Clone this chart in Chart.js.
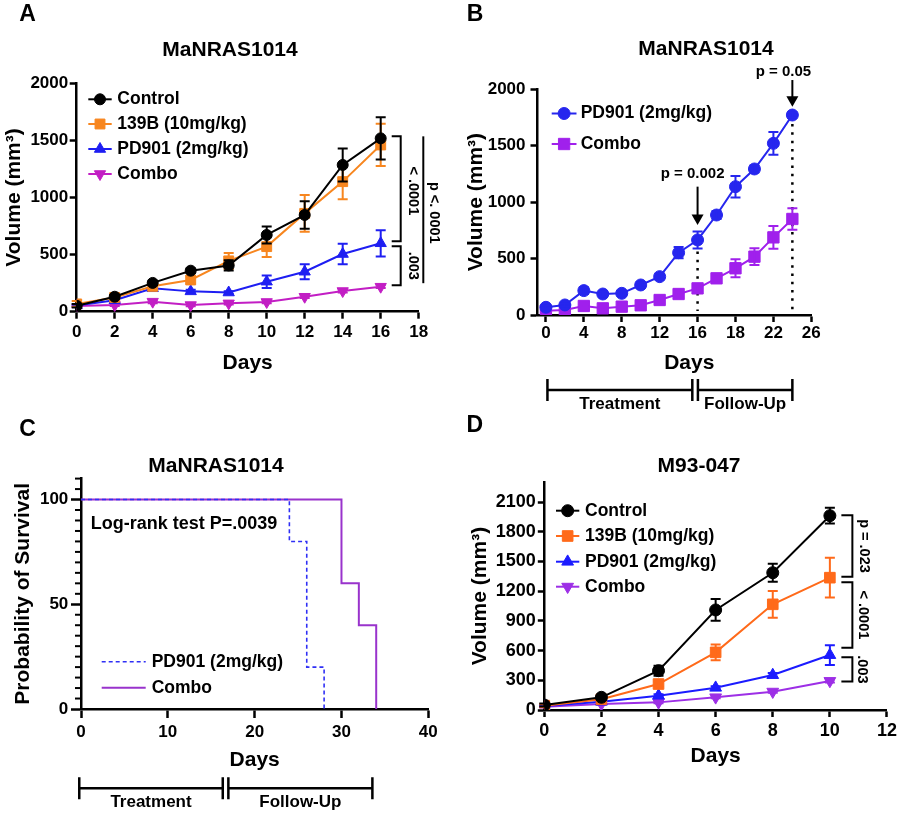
<!DOCTYPE html>
<html>
<head>
<meta charset="utf-8">
<title>MaNRAS1014 / M93-047 tumor volume and survival</title>
<script src="https://cdn.jsdelivr.net/npm/chart.js@4.4.1/dist/chart.umd.min.js"></script>
<style>
  html, body { margin: 0; padding: 0; background: #ffffff; }
  #fig { position: relative; width: 900px; height: 816px; overflow: hidden; background: #ffffff; }
  #fig canvas { position: absolute; }
</style>
</head>
<body>
<div id="fig">
  <canvas id="chartA" width="450" height="420" style="left:0px;top:0px;width:450px;height:420px"></canvas>
  <canvas id="chartB" width="450" height="420" style="left:450px;top:0px;width:450px;height:420px"></canvas>
  <canvas id="chartC" width="450" height="406" style="left:0px;top:410px;width:450px;height:406px"></canvas>
  <canvas id="chartD" width="450" height="406" style="left:450px;top:410px;width:450px;height:406px"></canvas>
</div>
<script>
// ---------------- Panel A data (MaNRAS1014) ----------------
const daysA      = [0, 2, 4, 6, 8, 10, 12, 14, 16];
const xTicksA    = [0, 2, 4, 6, 8, 10, 12, 14, 16, 18];
const yTicksA    = [0, 500, 1000, 1500, 2000];
const controlA   = [52, 131, 252, 359, 405, 672, 847, 1285, 1518];
const controlErrA= [15, 15, 20, 20, 45, 75, 120, 145, 185];
const b139A      = [68, 125, 222, 278, 445, 570, 861, 1139, 1460];
const b139ErrA   = [25, 15, 20, 30, 70, 90, 160, 155, 185];
const pd901A     = [55, 100, 205, 178, 168, 263, 350, 505, 599];
const pd901ErrA  = [10, 12, 15, 15, 12, 55, 65, 90, 115];
const comboA     = [50, 58, 88, 58, 73, 85, 131, 181, 219];
const comboErrA  = [8, 8, 15, 10, 10, 10, 12, 12, 12];

// ---------------- Panel B data (MaNRAS1014, follow-up) ----------------
const tickLabelsB = ['0', '4', '8', '12', '16', '18', '22', '26'];
const yTicksB     = [0, 500, 1000, 1500, 2000];
const pd901B      = [68, 89, 216, 186, 192, 266, 340, 552, 665, 886, 1137, 1294, 1521, 1772];
const pd901ErrB   = [15, 15, 30, 20, 20, 25, 25, 50, 75, 35, 95, 30, 100, 25];
const comboB      = [38, 44, 80, 59, 74, 86, 133, 186, 236, 325, 414, 517, 688, 851];
const comboErrB   = [10, 10, 15, 10, 10, 15, 15, 20, 25, 35, 80, 75, 100, 95];
const pIndexB     = [8, 13];
const pLabelsB    = ['p = 0.002', 'p = 0.05'];

// ---------------- Panel C data (survival) ----------------
const xTicksC      = [0, 10, 20, 30, 40];
const yTicksC      = [0, 50, 100];
const kmDaysPD     = [0, 24, 26, 28];
const kmSurvPD     = [100, 80, 20, 0];
const kmDaysCombo  = [0, 30, 32, 34];
const kmSurvCombo  = [100, 60, 40, 0];

// ---------------- Panel D data (M93-047) ----------------
const daysD       = [0, 2, 4, 6, 8, 10];
const xTicksD     = [0, 2, 4, 6, 8, 10, 12];
const yTicksD     = [0, 300, 600, 900, 1200, 1500, 1800, 2100];
const controlD    = [50, 128, 397, 1010, 1386, 1962];
const controlErrD = [15, 20, 50, 110, 90, 80];
const b139D       = [44, 108, 262, 582, 1067, 1336];
const b139ErrD    = [15, 15, 25, 80, 135, 200];
const pd901D      = [40, 84, 145, 225, 353, 555];
const pd901ErrD   = [10, 10, 15, 15, 20, 100];
const comboD      = [34, 61, 77, 128, 185, 293];
const comboErrD   = [8, 8, 10, 10, 10, 15];

// ---------------- styling ----------------
const FONT = '"Liberation Sans", Arial, Helvetica, sans-serif';
Chart.defaults.font.family = FONT;
Chart.defaults.font.weight = 'bold';
Chart.defaults.color = '#000';

const COL = {
  black: '#000000',
  orangeA: '#f7861f', blueA: '#1e1ef2', magentaA: '#c21ec4',
  blueB: '#2626ee', purpleB: '#a020ec',
  blueC: '#2f2ff5', purpleC: '#9933cc',
  orangeD: '#ff6a1a', blueD: '#1b1bff', purpleD: '#9d2fe6'
};

function text(ctx, s, x, y, size, align, rot) {
  ctx.save();
  ctx.translate(x, y);
  if (rot) ctx.rotate(rot);
  ctx.font = 'bold ' + size + 'px ' + FONT;
  ctx.fillStyle = '#000';
  ctx.textAlign = align || 'center';
  ctx.textBaseline = 'middle';
  ctx.fillText(s, 0, 0);
  ctx.restore();
}

function series(label, xs, ys, errs, color, style, radius, rotation) {
  return {
    label: label,
    errorBars: errs,
    data: xs.map((x, i) => ({ x: x, y: ys[i] })),
    borderColor: color, backgroundColor: color,
    pointBackgroundColor: color, pointBorderColor: color,
    pointStyle: style, pointRadius: radius, pointRotation: rotation || 0,
    pointBorderWidth: 1, borderWidth: 2, tension: 0, fill: false
  };
}

function axisX(o) {
  return {
    type: 'linear', position: 'bottom', min: o.min, max: o.max,
    afterFit: s => { s.height = o.height; },
    afterBuildTicks: s => { s.ticks = o.ticks.map(v => ({ value: v })); },
    border: { display: true, color: '#000', width: 2.5 },
    grid: { display: true, drawOnChartArea: false, drawTicks: true, tickLength: o.tickLength, tickWidth: 2.5, tickColor: '#000' },
    ticks: { color: '#000', padding: o.pad, maxRotation: 0, autoSkip: false,
             font: { size: o.size, weight: 'bold' }, callback: o.cb || (v => String(v)) },
    title: o.title ? { display: true, text: o.title, color: '#000', font: { size: 21, weight: 'bold' },
                       padding: { top: 0, bottom: o.titlePad } } : { display: false }
  };
}

function axisY(o) {
  return {
    type: 'linear', position: 'left', min: o.min, max: o.max,
    afterFit: s => { s.width = o.width; },
    afterBuildTicks: s => { s.ticks = o.ticks.map(v => ({ value: v })); },
    border: { display: true, color: '#000', width: 2.5 },
    grid: { display: true, drawOnChartArea: false, drawTicks: true, tickLength: o.tickLength, tickWidth: 2.5, tickColor: '#000' },
    ticks: { color: '#000', padding: o.pad, autoSkip: false,
             font: { size: o.size, weight: 'bold' }, callback: v => String(v) },
    title: { display: true, text: o.title, color: '#000', font: { size: 21, weight: 'bold' },
             padding: { top: o.titlePad, bottom: 0 } }
  };
}

function common(pad) {
  return {
    responsive: false, animation: false, devicePixelRatio: 1, events: [],
    layout: { padding: pad },
    plugins: { legend: { display: false }, tooltip: { enabled: false }, title: { display: false } }
  };
}

// error bars drawn through the chart's own y scale
const errorBars = {
  id: 'errorBars',
  afterDatasetDraw(chart, args) {
    const ds = chart.data.datasets[args.index];
    if (!ds.errorBars) return;
    const ys = chart.scales.y, ctx = chart.ctx;
    ctx.save();
    ctx.strokeStyle = ds.borderColor;
    ctx.lineWidth = 2;
    args.meta.data.forEach((pt, i) => {
      const e = ds.errorBars[i];
      if (!e) return;
      const v = ds.data[i].y;
      const top = ys.getPixelForValue(v + e), bot = ys.getPixelForValue(v - e);
      ctx.beginPath();
      ctx.moveTo(pt.x, top); ctx.lineTo(pt.x, bot);
      ctx.moveTo(pt.x - 5, top); ctx.lineTo(pt.x + 5, top);
      ctx.moveTo(pt.x - 5, bot); ctx.lineTo(pt.x + 5, bot);
      ctx.stroke();
    });
    ctx.restore();
  }
};

function marker(ctx, style, r, rot, x, y, color) {
  ctx.save();
  ctx.fillStyle = color; ctx.strokeStyle = color; ctx.lineWidth = 1;
  ctx.beginPath();
  if (style === 'circle') {
    ctx.arc(x, y, r, 0, Math.PI * 2);
  } else if (style === 'rect') {
    const s = Math.SQRT1_2 * r;
    ctx.rect(x - s, y - s, 2 * s, 2 * s);
  } else if (style === 'triangle') {
    let a = (rot || 0) * Math.PI / 180;
    for (let k = 0; k < 3; k++) {
      const px = x + Math.sin(a) * r, py = y - Math.cos(a) * r;
      if (k) ctx.lineTo(px, py); else ctx.moveTo(px, py);
      a += 2 * Math.PI / 3;
    }
    ctx.closePath();
  }
  ctx.fill(); ctx.stroke();
  ctx.restore();
}

function legend(ctx, datasets, x0, x1, xt, rows, size) {
  datasets.forEach((ds, i) => {
    const y = rows[i];
    ctx.save();
    ctx.strokeStyle = ds.borderColor;
    ctx.lineWidth = ds.borderWidth || 2;
    ctx.setLineDash(ds.borderDash || []);
    ctx.beginPath(); ctx.moveTo(x0, y); ctx.lineTo(x1, y); ctx.stroke();
    ctx.restore();
    if (ds.pointRadius > 0) marker(ctx, ds.pointStyle, ds.pointRadius, ds.pointRotation, (x0 + x1) / 2, y, ds.borderColor);
    text(ctx, ds.label, xt, y, size, 'left');
  });
}

function bracket(ctx, xArm, x, y1, y2) {
  ctx.beginPath();
  ctx.moveTo(xArm, y1); ctx.lineTo(x, y1); ctx.lineTo(x, y2); ctx.lineTo(xArm, y2);
  ctx.stroke();
}

function phaseBars(ctx, xs, bounds, labels, y, ty) {
  const gap = 2.8;
  const segs = [[xs.getPixelForValue(bounds[0]), xs.getPixelForValue(bounds[1]) - gap],
                [xs.getPixelForValue(bounds[1]) + gap, xs.getPixelForValue(bounds[2])]];
  ctx.save();
  ctx.strokeStyle = '#000'; ctx.lineWidth = 2.5;
  segs.forEach(([a, b]) => {
    ctx.beginPath();
    ctx.moveTo(a, y); ctx.lineTo(b, y);
    ctx.moveTo(a, y - 11); ctx.lineTo(a, y + 11);
    ctx.moveTo(b, y - 11); ctx.lineTo(b, y + 11);
    ctx.stroke();
  });
  ctx.restore();
  segs.forEach(([a, b], i) => text(ctx, labels[i], (a + b) / 2, ty, 17));
}

const last = a => a[a.length - 1];

// ---------------- Panel A ----------------
function decorA(chart) {
  const ctx = chart.ctx, xs = chart.scales.x, ys = chart.scales.y;
  text(ctx, 'A', 27.5, 14.5, 23);
  text(ctx, 'MaNRAS1014', 230, 50, 21);
  legend(ctx, chart.data.datasets, 88.3, 111.7, 117.3, [99.3, 124, 149, 174], 17.5);
  const xl = xs.getPixelForValue(last(daysA));
  const yC = ys.getPixelForValue(last(controlA)) - 2;
  const yP = ys.getPixelForValue(last(pd901A)) - 2;
  const yP2 = ys.getPixelForValue(last(pd901A)) + 3;
  const yK = ys.getPixelForValue(last(comboA)) - 1.5;
  ctx.save();
  ctx.strokeStyle = '#000'; ctx.lineWidth = 2;
  bracket(ctx, xl + 11, xl + 20, yC, yP);
  bracket(ctx, xl + 11, xl + 20, yP2, yK);
  ctx.beginPath(); ctx.moveTo(xl + 42.6, yC); ctx.lineTo(xl + 42.6, yK - 2); ctx.stroke();
  ctx.restore();
  text(ctx, '< .0001', xl + 32, (yC + yP) / 2 + 2, 14.5, 'center', Math.PI / 2);
  text(ctx, '.003', xl + 32, (yP2 + yK) / 2, 14.5, 'center', Math.PI / 2);
  text(ctx, 'p <. 0001', xl + 53, (yC + yK) / 2 + 2, 14.5, 'center', Math.PI / 2);
}

new Chart(document.getElementById('chartA'), {
  type: 'line',
  data: { datasets: [
    series('Control', daysA, controlA, controlErrA, COL.black, 'circle', 5.5, 0),
    series('139B (10mg/kg)', daysA, b139A, b139ErrA, COL.orangeA, 'rect', 7, 0),
    series('PD901 (2mg/kg)', daysA, pd901A, pd901ErrA, COL.blueA, 'triangle', 6.5, 0),
    series('Combo', daysA, comboA, comboErrA, COL.magentaA, 'triangle', 6.5, 180)
  ] },
  options: Object.assign(common({ left: 0, top: 83.3, right: 31.3, bottom: 0 }), {
    scales: {
      x: axisX({ min: 0, max: 18, ticks: xTicksA, height: 108.3, tickLength: 7, pad: 3, size: 17, title: 'Days', titlePad: 44.4 }),
      y: axisY({ min: 0, max: 2000, ticks: yTicksA, width: 76.7, tickLength: 7, pad: 1.5, size: 17, title: 'Volume (mm³)', titlePad: 2 })
    }
  }),
  plugins: [errorBars, { id: 'decorA', afterDraw: decorA }]
});

// ---------------- Panel B ----------------
const posB = pd901B.map((_, i) => i);
function dottedB(chart) {
  const ctx = chart.ctx, xs = chart.scales.x, ys = chart.scales.y;
  ctx.save();
  ctx.strokeStyle = '#000'; ctx.lineWidth = 2.5; ctx.setLineDash([2.5, 5.8]);
  pIndexB.forEach(i => {
    const x = xs.getPixelForValue(i);
    const y0 = Math.max(ys.getPixelForValue(pd901B[i]) + 9, ys.getPixelForValue(pd901B[i] - pd901ErrB[i]) + 3);
    ctx.beginPath(); ctx.moveTo(x, y0); ctx.lineTo(x, chart.chartArea.bottom - 4); ctx.stroke();
  });
  ctx.restore();
}
function arrow(ctx, x, yTop, yTip) {
  ctx.save();
  ctx.strokeStyle = '#000'; ctx.fillStyle = '#000'; ctx.lineWidth = 2;
  ctx.beginPath(); ctx.moveTo(x, yTop); ctx.lineTo(x, yTip - 8); ctx.stroke();
  ctx.beginPath(); ctx.moveTo(x - 6, yTip - 10.5); ctx.lineTo(x + 6, yTip - 10.5); ctx.lineTo(x, yTip); ctx.closePath(); ctx.fill();
  ctx.restore();
}
function decorB(chart) {
  const ctx = chart.ctx, xs = chart.scales.x, ys = chart.scales.y;
  text(ctx, 'B', 25, 14.5, 23);
  text(ctx, 'MaNRAS1014', 256, 49.3, 21);
  legend(ctx, chart.data.datasets, 101.7, 126.5, 130.7, [113.5, 144], 17.5);
  text(ctx, 'Days', 239.3, 363, 21);
  const tipGap = [15, 8.3], len = [38.3, 26.7], tGap = [12.7, 8.3], tDx = [-5, -9];
  pIndexB.forEach((idx, k) => {
    const x = xs.getPixelForValue(idx);
    const tip = ys.getPixelForValue(pd901B[idx]) - tipGap[k];
    arrow(ctx, x, tip - len[k], tip);
    text(ctx, pLabelsB[k], x + tDx[k], tip - len[k] - tGap[k], 15);
  });
  phaseBars(ctx, xs, [0.08, 7.87, 13], ['Treatment', 'Follow-Up'], 390, 404);
}

new Chart(document.getElementById('chartB'), {
  type: 'line',
  data: { datasets: [
    series('PD901 (2mg/kg)', posB, pd901B, pd901ErrB, COL.blueB, 'circle', 6, 0),
    series('Combo', posB, comboB, comboErrB, COL.purpleB, 'rect', 8, 0)
  ] },
  options: Object.assign(common({ left: 0, top: 89.3, right: 88.3, bottom: 0 }), {
    scales: {
      x: axisX({ min: -0.444, max: 14.02, ticks: [0, 2, 4, 6, 8, 10, 12, 14], height: 105, tickLength: 7, pad: 1, size: 17,
                 cb: v => tickLabelsB[Math.round(v / 2)] }),
      y: axisY({ min: 0, max: 2000, ticks: yTicksB, width: 87.5, tickLength: 7, pad: 5, size: 17, title: 'Volume (mm³)', titlePad: 13.7 })
    }
  }),
  plugins: [errorBars, { id: 'decorB', beforeDatasetsDraw: dottedB, afterDraw: decorB }]
});

// ---------------- Panel C ----------------
function decorC(chart) {
  const ctx = chart.ctx, xs = chart.scales.x, ys = chart.scales.y;
  text(ctx, 'C', 27.5, 19.2, 23);
  text(ctx, 'MaNRAS1014', 216, 56, 21);
  text(ctx, 'Log-rank test P=.0039', 90.7, 114, 18, 'left');
  legend(ctx, chart.data.datasets, 101.7, 145.7, 151.7, [251.7, 277.7], 17.5);
  // minor ticks on survival axis
  ctx.save();
  ctx.strokeStyle = '#000'; ctx.lineWidth = 2;
  const left = chart.chartArea.left;
  for (let v = 5; v <= 110; v += 5) {
    if (yTicksC.indexOf(v) >= 0) continue;
    const y = ys.getPixelForValue(v);
    ctx.beginPath(); ctx.moveTo(left - 6, y); ctx.lineTo(left, y); ctx.stroke();
  }
  ctx.restore();
  phaseBars(ctx, xs, [-0.2, 16.65, 33.56], ['Treatment', 'Follow-Up'], 378.3, 392.7);
}

new Chart(document.getElementById('chartC'), {
  type: 'line',
  data: { datasets: [
    { label: 'PD901 (2mg/kg)', data: kmDaysPD.map((d, i) => ({ x: d, y: kmSurvPD[i] })),
      stepped: true, borderColor: COL.blueC, backgroundColor: COL.blueC, borderWidth: 1.6, borderDash: [4, 3],
      pointRadius: 0, fill: false },
    { label: 'Combo', data: kmDaysCombo.map((d, i) => ({ x: d, y: kmSurvCombo[i] })),
      stepped: true, borderColor: COL.purpleC, backgroundColor: COL.purpleC, borderWidth: 2,
      pointRadius: 0, fill: false }
  ] },
  options: Object.assign(common({ left: 0, top: 68.6, right: 21.7, bottom: 0 }), {
    scales: {
      x: axisX({ min: 0, max: 40, ticks: xTicksC, height: 107, tickLength: 9, pad: 4.5, size: 17, title: 'Days', titlePad: 42.7 }),
      y: axisY({ min: 0, max: 110, ticks: yTicksC, width: 81, tickLength: 10, pad: 2.7, size: 17, title: 'Probability of Survival', titlePad: 10.7 })
    }
  }),
  plugins: [{ id: 'decorC', afterDraw: decorC }]
});

// ---------------- Panel D ----------------
function decorD(chart) {
  const ctx = chart.ctx, xs = chart.scales.x, ys = chart.scales.y;
  text(ctx, 'D', 24.7, 15.8, 23);
  text(ctx, 'M93-047', 249, 56, 21);
  legend(ctx, chart.data.datasets, 106, 129.3, 135, [100.7, 126, 151.7, 176.7], 17.5);
  const xl = xs.getPixelForValue(last(daysD));
  const y1a = ys.getPixelForValue(last(controlD)) - 0.4;
  const y1b = ys.getPixelForValue(last(b139D)) - 1;
  const y2a = ys.getPixelForValue(last(b139D)) + 4.5;
  const y2b = ys.getPixelForValue(last(pd901D) + last(pd901ErrD)) + 2.5;
  const y3a = ys.getPixelForValue(last(pd901D)) + 2.3;
  const y3b = ys.getPixelForValue(last(comboD)) + 0.5;
  ctx.save();
  ctx.strokeStyle = '#000'; ctx.lineWidth = 2;
  bracket(ctx, xl + 11.5, xl + 22.5, y1a, y1b);
  bracket(ctx, xl + 11.5, xl + 22.5, y2a, y2b);
  bracket(ctx, xl + 11.5, xl + 22.5, y3a, y3b);
  ctx.restore();
  text(ctx, 'p = .023', xl + 34, (y1a + y1b) / 2, 14.5, 'center', Math.PI / 2);
  text(ctx, '< .0001', xl + 33, (y2a + y2b) / 2, 14.5, 'center', Math.PI / 2);
  text(ctx, '.003', xl + 32, (y3a + y3b) / 2, 14.5, 'center', Math.PI / 2);
}

new Chart(document.getElementById('chartD'), {
  type: 'line',
  data: { datasets: [
    series('Control', daysD, controlD, controlErrD, COL.black, 'circle', 6, 0),
    series('139B (10mg/kg)', daysD, b139D, b139ErrD, COL.orangeD, 'rect', 7.5, 0),
    series('PD901 (2mg/kg)', daysD, pd901D, pd901ErrD, COL.blueD, 'triangle', 6.8, 0),
    series('Combo', daysD, comboD, comboErrD, COL.purpleD, 'triangle', 6.8, 180)
  ] },
  options: Object.assign(common({ left: 0, top: 72.2, right: 12.7, bottom: 0 }), {
    scales: {
      x: axisX({ min: 0, max: 12, ticks: xTicksD, height: 106, tickLength: 7, pad: 3, size: 18, title: 'Days', titlePad: 46.7 }),
      y: axisY({ min: 0, max: 2300, ticks: yTicksD, width: 94.3, tickLength: 6.5, pad: 2, size: 18, title: 'Volume (mm³)', titlePad: 17.4 })
    }
  }),
  plugins: [errorBars, { id: 'decorD', afterDraw: decorD }]
});
</script>
</body>
</html>
